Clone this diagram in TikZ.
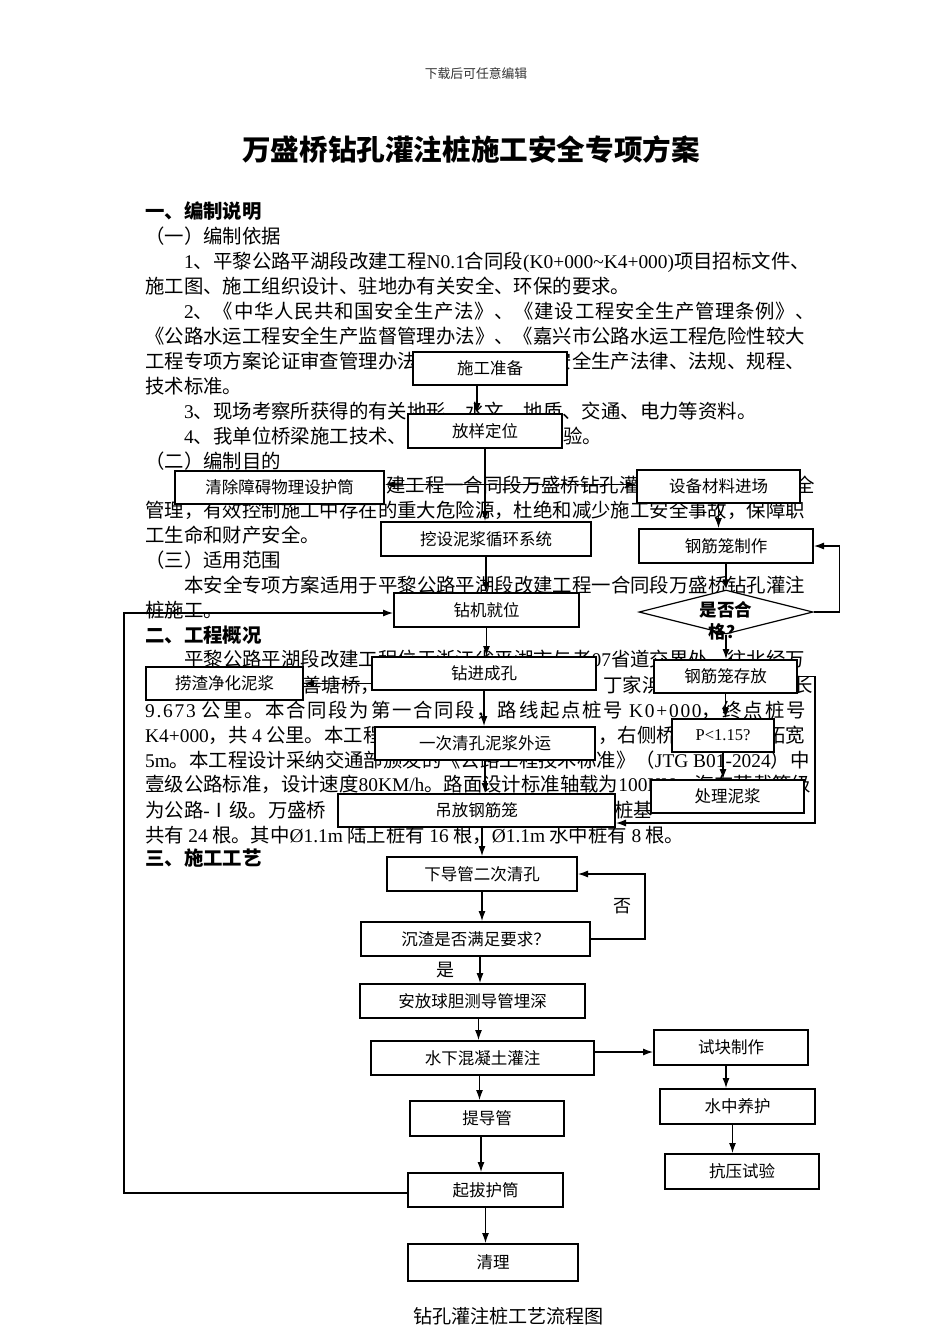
\documentclass[tikz,border=0pt]{standalone}
\usepackage{fontspec}
\setmainfont{Noto Sans CJK SC}
\newfontfamily\enfont{Liberation Serif}
\usetikzlibrary{shapes.geometric,arrows.meta}

\tikzstyle{base}=[rectangle,
                  draw=black,
                  line width=2pt,
                  fill=white,
                  inner sep=0pt,
                  minimum height=34pt,
                  text centered,
                  font=\fontsize{16.5}{20}\selectfont]
\tikzstyle{decision}=[diamond, draw=black, line width=1.2pt, fill=white, inner sep=0pt,
                      minimum width=174pt, minimum height=44pt]
\tikzstyle{para}=[anchor=base west, inner sep=0pt, font=\fontsize{19.4}{24}\selectfont]
\tikzstyle{pararight}=[para, anchor=base east]
\tikzstyle{head}=[para, font=\fontsize{19.4}{24}\selectfont\bfseries]
\tikzstyle{yesno}=[inner sep=0pt, font=\fontsize{18}{22}\selectfont]
\tikzstyle{flow}=[line width=1.1pt, -{Latex[length=10pt,width=7pt]}]
\tikzstyle{twoway}=[line width=1.1pt, {Latex[length=10pt,width=7pt]}-{Latex[length=10pt,width=7pt]}]

\begin{document}
\begin{tikzpicture}[x=1pt, y=-1pt]
    \fill[white] (0,0) rectangle (950,1344);
    \useasboundingbox (0,0) rectangle (950,1344);

    % header and title
    \node at (476, 74) (header) [font=\fontsize{12.8}{15}\selectfont, text=black!80] {下载后可任意编辑};
    \node at (471,150) (title)  [font=\fontsize{28.6}{34}\selectfont\bfseries] {万盛桥钻孔灌注桩施工安全专项方案};

    % text of the page (only what the boxes leave visible)
    \node at (145,218) (t01)  [head] {一、编制说明};
    \node at (145,243) (t02)  [para] {（一）编制依据};
    \node at (184,268) (t03)  [para] {{\enfont 1}、平黎公路平湖段改建工程{\enfont N0.1}合同段{\enfont (K0+000\textasciitilde K4+000)}项目招标文件、};
    \node at (145,293) (t04)  [para] {施工图、施工组织设计、驻地办有关安全、环保的要求。};
    \node at (184,318) (t05)  [para, font=\fontsize{19.4}{24}\selectfont\addfontfeature{LetterSpace=3.4}]
          {{\enfont 2}、《中华人民共和国安全生产法》、《建设工程安全生产管理条例》、};
    \node at (145,343) (t06)  [para] {《公路水运工程安全生产监督管理办法》、《嘉兴市公路水运工程危险性较大};
    \node at (145,368) (t07a) [para] {工程专项方案论证审查管理办法};
    \node at (805,368) (t07b) [pararight] {安全生产法律、法规、规程、};
    \node at (145,393) (t08)  [para] {技术标准。};
    \node at (184,418) (t09)  [para] {{\enfont 3}、现场考察所获得的有关地形、水文、地质、交通、电力等资料。};
    \node at (184,443) (t10a) [para] {{\enfont 4}、我单位桥梁施工技术、};
    \node at (563,443) (t10b) [para] {验。};
    \node at (145,468) (t11)  [para] {（二）编制目的};
    \node at (386,492) (t12a) [para] {建工程一合同段万盛桥钻孔灌};
    \node at (795,492) (t12b) [para] {全};
    \node at (145,517) (t13)  [para] {管理，有效控制施工中存在的重大危险源，杜绝和减少施工安全事故，保障职};
    \node at (145,542) (t14)  [para] {工生命和财产安全。};
    \node at (145,567) (t15)  [para] {（三）适用范围};
    \node at (184,592) (t16)  [para] {本安全专项方案适用于平黎公路平湖段改建工程一合同段万盛桥钻孔灌注};
    \node at (145,617) (t17)  [para] {桩施工。};
    \node at (145,642) (t18)  [head] {二、工程概况};
    \node at (184,666) (t19)  [para] {平黎公路平湖段改建工程位于浙江省平湖市与老{\enfont 07}省道交界处，往北经万};
    \node at (302,692) (t20a) [para] {善塘桥，};
    \node at (603,692) (t20b) [para] {丁家浜};
    \node at (793,692) (t20c) [para] {长};
    \node at (145,717) (t21)  [para, font=\fontsize{19.4}{24}\selectfont\addfontfeature{LetterSpace=9}]
          {{\enfont\addfontfeature{LetterSpace=9}9.673} 公里。本合同段为第一合同段，路线起点桩号 {\enfont\addfontfeature{LetterSpace=9}K0+000}，终点桩号};
    \node at (145,742) (t22a) [para] {{\enfont K4+000}，共 {\enfont 4} 公里。本工程};
    \node at (598,742) (t22b) [para] {，右侧桥};
    \node at (805,742) (t22c) [pararight] {拓宽};
    \node at (145,767) (t23)  [para] {{\enfont 5m}。本工程设计采纳交通部颁发的《公路工程技术标准》（{\enfont JTG B01-2024}）中};
    \node at (145,791) (t24)  [para] {壹级公路标准，设计速度{\enfont 80KM/h}。路面设计标准轴载为{\enfont 100KN}，汽车荷载等级};
    \node at (145,817) (t25a) [para] {为公路{\enfont -}Ⅰ级。万盛桥};
    \node at (614,817) (t25b) [para] {桩基};
    \node at (145,842) (t26)  [para] {共有 {\enfont 24} 根。其中{\enfont Ø1.1m} 陆上桩有 {\enfont 16} 根，{\enfont Ø1.1m} 水中桩有 {\enfont 8} 根。};
    \node at (145,865) (t27)  [head] {三、施工工艺};

    % flow chart
    \node at (490.0, 368.5) (prep)      [base, minimum width=154pt, minimum height=33pt] {施工准备};
    \node at (485.0, 431.0) (setout)    [base, minimum width=154pt]                      {放样定位};
    \node at (279.5, 487.5) (clear)     [base, minimum width=209pt, minimum height=33pt] {清除障碍物理设护筒};
    \node at (718.5, 486.5) (equip)     [base, minimum width=163pt, minimum height=33pt] {设备材料进场};
    \node at (486.0, 539.0) (slurry)    [base, minimum width=210pt]                      {挖设泥浆循环系统};
    \node at (726.0, 546.0) (cagemake)  [base, minimum width=174pt]                      {钢筋笼制作};
    \node at (486.5, 610.0) (rig)       [base, minimum width=185pt]                      {钻机就位};
    \node at (726.0, 612.0) (qualify)   [decision]                                       {};
    \node at ([yshift=-9pt]qualify.center) (qualifytext) [align=center, inner sep=0pt,
                                         font=\fontsize{17.5}{22}\selectfont\bfseries]   {是否合\\格？};
    \node at (484.0, 673.5) (drill)     [base, minimum width=224pt, minimum height=33pt] {钻进成孔};
    \node at (224.5, 683.5) (fish)      [base, minimum width=157pt, minimum height=33pt] {捞渣净化泥浆};
    \node at (725.5, 676.5) (cagestore) [base, minimum width=143pt, minimum height=33pt] {钢筋笼存放};
    \node at (485.0, 743.5) (clean1)    [base, minimum width=220pt, minimum height=33pt] {一次清孔泥浆外运};
    \node at (723.0, 735.5) (ratio)     [base, minimum width=102pt, minimum height=33pt] {{\enfont P<1.15?}};
    \node at (727.5, 796.5) (mudtreat)  [base, minimum width=153pt, minimum height=33pt] {处理泥浆};
    \node at (476.5, 810.5) (hoist)     [base, minimum width=277pt, minimum height=33pt] {吊放钢筋笼};
    \node at (482.0, 874.0) (tremie)    [base, minimum width=190pt]                      {下导管二次清孔};
    \node at (475.5, 939.0) (sediment)  [base, minimum width=229pt]                      {沉渣是否满足要求？};
    \node at (472.5,1001.0) (ball)      [base, minimum width=225pt]                      {安放球胆测导管埋深};
    \node at (482.5,1058.0) (pour)      [base, minimum width=223pt]                      {水下混凝土灌注};
    \node at (731.0,1047.5) (sample)    [base, minimum width=154pt, minimum height=35pt] {试块制作};
    \node at (737.5,1106.5) (cure)      [base, minimum width=155pt, minimum height=35pt] {水中养护};
    \node at (742.0,1171.5) (press)     [base, minimum width=154pt, minimum height=35pt] {抗压试验};
    \node at (487.0,1118.5) (pullpipe)  [base, minimum width=154pt, minimum height=35pt] {提导管};
    \node at (485.5,1190.0) (casing)    [base, minimum width=155pt]                      {起拔护筒};
    \node at (493.0,1262.5) (tidy)      [base, minimum width=170pt, minimum height=37pt] {清理};

    \draw[flow]   ([xshift=-13pt]prep.south) -- ([xshift=-13pt]prep.south |- setout.north);
    \draw[flow]   (setout.south)   -- (setout.south |- slurry.north);
    \draw[twoway] ([yshift=3pt]clear.east) -- ([yshift=3pt]clear.east -| equip.west);
    \draw[flow]   (equip.south)    -- (equip.south |- cagemake.north);
    \draw[flow]   (slurry.south)   -- (slurry.south |- rig.north);
    \draw[flow]   (cagemake.south) -- (cagemake.south |- qualify.north);
    \draw[flow]   (qualify.east)   -- ++(26,0) |- (cagemake.east);
    \draw[flow]   ([yshift=-3pt]casing.west) -- ++(-283,0) |- ([yshift=-3pt]rig.west);
    \draw[flow]   (rig.south)      -- (rig.south |- drill.north);
    \draw[flow]   (qualify.south)  -- (qualify.south |- cagestore.north);
    \draw[flow]   (fish.east -| drill.west) -- (fish.east);
    \draw[flow]   (drill.south)    -- (drill.south |- clean1.north);
    \draw[flow]   (cagestore.south) -- (cagestore.south |- ratio.north);
    \draw[flow]   (ratio.south)    -- (ratio.south |- mudtreat.north);
    \draw[flow]   (clean1.south)   -- (clean1.south |- hoist.north);
    \coordinate (storebend) at (815,823);
    \draw[flow]   (cagestore.east) -| (storebend) -- (storebend -| hoist.east);
    \draw[flow]   (tremie.north |- hoist.south) -- (tremie.north);
    \draw[flow]   (tremie.south)   -- (tremie.south |- sediment.north);
    \draw[flow]   (sediment.east)  -- ++(54,0) |- node[pos=0.25, left=13pt, yesno] (nolabel) {否} (tremie.east);
    \draw[flow]   ([xshift=4.5pt]sediment.south) -- node[left=25pt, yesno] (yeslabel) {是} ([xshift=4.5pt]sediment.south |- ball.north);
    \draw[flow]   ([xshift=6pt]ball.south)  -- ([xshift=6pt]ball.south |- pour.north);
    \draw[flow]   ([yshift=6pt]pour.east)   -- ([yshift=6pt]pour.east -| sample.west);
    \draw[flow]   ([xshift=-5pt]sample.south) -- ([xshift=-5pt]sample.south |- cure.north);
    \draw[flow]   ([xshift=-5pt]cure.south)   -- ([xshift=-5pt]cure.south |- press.north);
    \draw[flow]   ([xshift=-3pt]pour.south)   -- ([xshift=-3pt]pour.south |- pullpipe.north);
    \draw[flow]   ([xshift=-6pt]pullpipe.south) -- ([xshift=-6pt]pullpipe.south |- casing.north);
    \draw[flow]   (casing.south)   -- (casing.south |- tidy.north);

    \node at (508.5,1316) (caption) [font=\fontsize{19.1}{23}\selectfont] {钻孔灌注桩工艺流程图};
\end{tikzpicture}
\end{document}
